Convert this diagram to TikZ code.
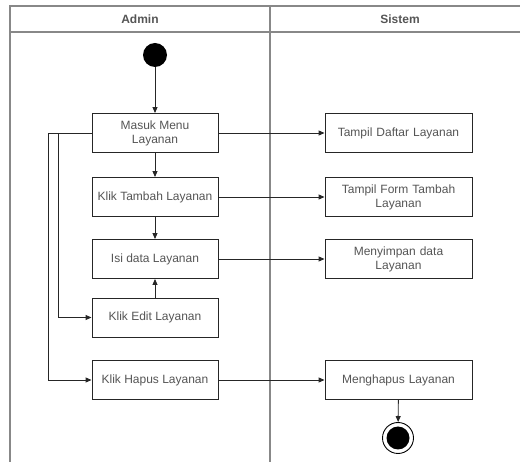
\documentclass[tikz,border=0pt]{standalone}
\usepackage{fontspec}
\setmainfont{Liberation Sans}
\usetikzlibrary{arrows.meta}
\definecolor{txt}{HTML}{555555}
\definecolor{frame}{HTML}{888888}
\begin{document}
\begin{tikzpicture}[x=1pt,y=-1pt,
  act/.style={draw=black!85,line width=0.9pt,fill=white,minimum width=126pt,minimum height=39pt,align=center,font=\fontsize{12pt}{14pt}\selectfont,text=txt,inner sep=1pt},
  sact/.style={act,minimum width=147pt,text width=140pt},
  flow/.style={draw=black!85,line width=0.9pt,-{Triangle[length=6pt,width=5pt]}},
  lane/.style={draw=frame,line width=1.4pt},
  hdr/.style={font=\bfseries\fontsize{12pt}{14pt}\selectfont,text=txt}]
\useasboundingbox (0,0) rectangle (520,462);
\clip (0,0) rectangle (520,462);
% swimlanes
\draw[lane] (10,470) -- (10,6) -- (530,6);
\draw[lane] (10,32) -- (530,32);
\draw[lane] (270,6) -- (270,470);
\node[hdr] (hA) at (140,19) {Admin};
\node[hdr] (hS) at (400,19) {Sistem};
% start
\node[circle,fill=black,minimum size=24pt,inner sep=0pt] (start) at (155,55) {};
% admin actions
\node[act] (masuk) at (155,133) {Masuk Menu\\Layanan};
\node[act] (tambah) at (155,197) {Klik Tambah Layanan};
\node[act] (isi) at (155,259) {Isi data Layanan};
\node[act] (edit) at (155,317.5) {Klik Edit Layanan};
\node[act] (hapus) at (155,380) {Klik Hapus Layanan};
% system actions
\node[sact] (daftar) at (398.5,133) {Tampil Daftar Layanan};
\node[sact] (form) at (398.5,197) {Tampil Form Tambah\\Layanan};
\node[sact] (simpan) at (398.5,259) {Menyimpan data\\Layanan};
\node[sact] (hps) at (398.5,380) {Menghapus Layanan};
% end
\node[circle,draw=black,line width=0.9pt,minimum size=31pt,inner sep=0pt] (endo) at (398,438) {};
\node[circle,fill=black,minimum size=23pt,inner sep=0pt] (endi) at (398,438) {};
% flows
\draw[flow] (start) -- (masuk);
\draw[flow] (masuk) -- (tambah);
\draw[flow] (tambah) -- (isi);
\draw[flow] (edit) -- (isi);
\draw[flow] (masuk) -- (daftar);
\draw[flow] (tambah) -- (form);
\draw[flow] (isi) -- (simpan);
\draw[flow] (hapus) -- (hps);
\draw[flow] (hps) -- (endo);
\draw[flow] (masuk.west) -- (58,133) |- (edit.west);
\draw[flow] (masuk.west) -- (48,133) |- (hapus.west);
\end{tikzpicture}
\end{document}
